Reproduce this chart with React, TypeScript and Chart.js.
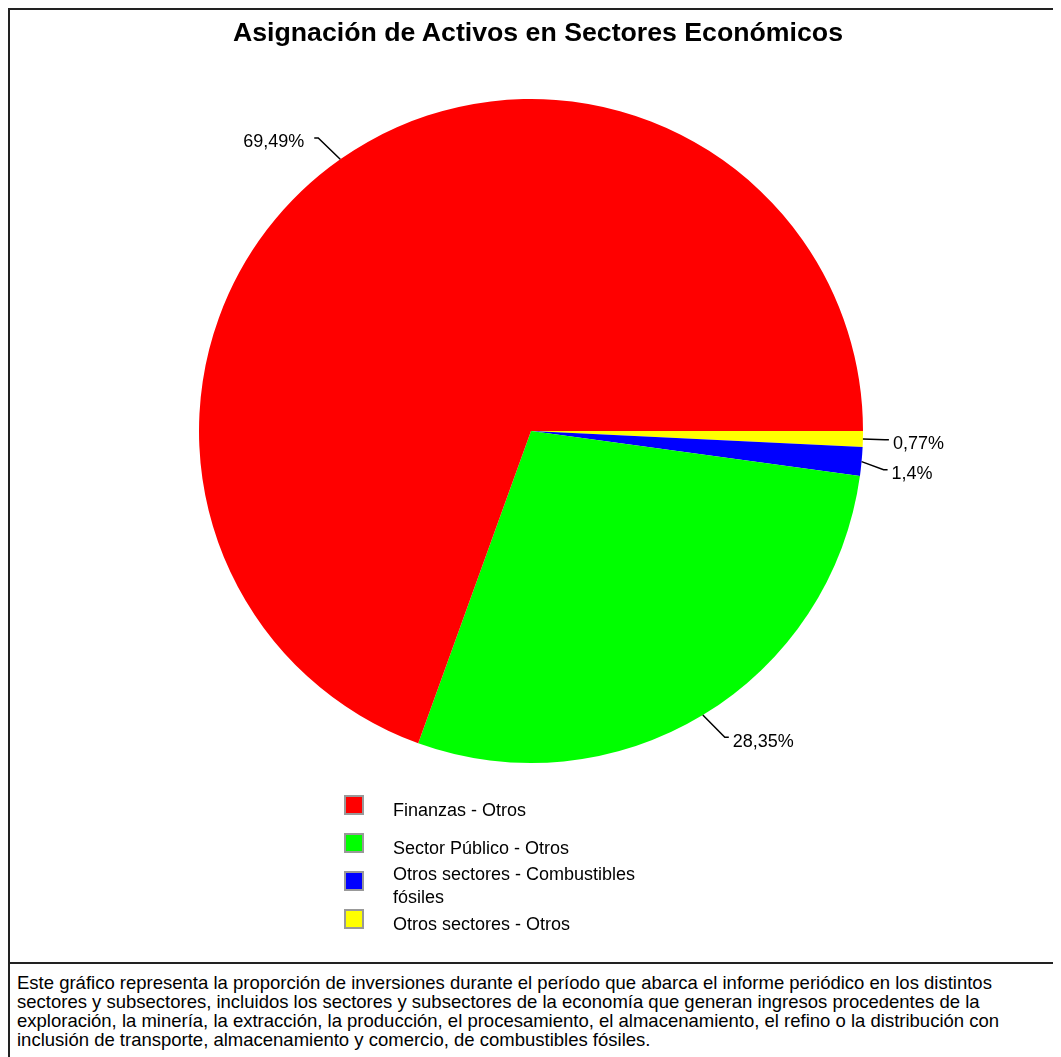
import React, { useEffect, useRef } from "react";
import { Chart, registerables } from "chart.js";

Chart.register(...registerables);

const TITLE = "Asignación de Activos en Sectores Económicos";
const categories = [
  "Finanzas - Otros",
  "Sector Público - Otros",
  "Otros sectores - Combustibles fósiles",
  "Otros sectores - Otros",
];
const values = [69.49, 28.35, 1.4, 0.77];
const valueLabels = ["69,49%", "28,35%", "1,4%", "0,77%"];
const colors = ["#FF0000", "#00FF00", "#0000FF", "#FFFF00"];
const footerLines = [
  "Este gráfico representa la proporción de inversiones durante el período que abarca el informe periódico en los distintos",
  "sectores y subsectores, incluidos los sectores y subsectores de la economía que generan ingresos procedentes de la",
  "exploración, la minería, la extracción, la producción, el procesamiento, el almacenamiento, el refino o la distribución con",
  "inclusión de transporte, almacenamiento y comercio, de combustibles fósiles.",
];

const FONT = "'Liberation Sans', Arial, Helvetica, sans-serif";

const outsideLabels = {
  id: "outsideLabels",
  afterDatasetsDraw(chart: any) {
    const ctx = chart.ctx;
    const meta = chart.getDatasetMeta(0);
    const lbls: string[] = chart.data.datasets[0].valueLabels;
    const items = meta.data.map((arc: any, i: number) => {
      const p = arc.getProps(["x", "y", "startAngle", "endAngle", "outerRadius"], true);
      const mid = (p.startAngle + p.endAngle) / 2;
      const c = Math.cos(mid);
      const s = Math.sin(mid);
      const x0 = p.x + c * p.outerRadius;
      const y0 = p.y + s * p.outerRadius;
      const right = c >= 0;
      const x1 = x0 + (right ? 22 : -22);
      const y1 = y0 + s * 26;
      return { x0, y0, x1, y1, right, text: lbls[i] };
    });
    // simple vertical collision avoidance per side
    [true, false].forEach((side) => {
      const group = items.filter((it: any) => it.right === side).sort((a: any, b: any) => a.y1 - b.y1);
      for (let k = 1; k < group.length; k++) {
        if (group[k].y1 - group[k - 1].y1 < 30) group[k].y1 = group[k - 1].y1 + 30;
      }
    });
    ctx.save();
    ctx.strokeStyle = "#000";
    ctx.lineWidth = 1.5;
    ctx.fillStyle = "#000";
    ctx.font = `18px ${FONT}`;
    ctx.textBaseline = "alphabetic";
    items.forEach((it: any) => {
      const x2 = it.x1 + (it.right ? 4 : -4);
      ctx.beginPath();
      ctx.moveTo(it.x0, it.y0);
      ctx.lineTo(it.x1, it.y1);
      ctx.lineTo(x2, it.y1);
      ctx.stroke();
      ctx.textAlign = it.right ? "left" : "right";
      ctx.fillText(it.text, x2 + (it.right ? 4 : -10), it.y1 + 9.5);
    });
    ctx.restore();
  },
};

function PieChart() {
  const ref = useRef<HTMLCanvasElement>(null);
  useEffect(() => {
    if (!ref.current) return;
    // Chart.js draws clockwise; reference runs counter-clockwise from 3 o'clock,
    // so the dataset order is reversed.
    const rev = (a: any[]) => a.slice().reverse();
    const chart = new Chart(ref.current, {
      type: "pie",
      data: {
        labels: rev(categories),
        datasets: [
          {
            data: rev(values),
            backgroundColor: rev(colors),
            borderWidth: 0,
            hoverOffset: 0,
            valueLabels: rev(valueLabels),
          } as any,
        ],
      },
      options: {
        animation: false,
        responsive: false,
        maintainAspectRatio: false,
        rotation: 90,
        radius: 332,
        layout: { padding: { left: 189, top: 89, right: 203, bottom: 37 } },
        plugins: {
          legend: { display: false },
          tooltip: { enabled: false },
          title: { display: false },
        },
        events: [],
      },
      plugins: [outsideLabels],
    });
    return () => chart.destroy();
  }, []);
  return (
    <canvas
      ref={ref}
      width={1056}
      height={790}
      style={{ position: "absolute", left: 0, top: 0, width: 1056, height: 790 }}
    />
  );
}

export default function App() {
  return (
    <div style={{ width: 1053, height: 1049, overflow: "hidden", fontFamily: FONT }}>
      <div
        style={{
          width: 1060,
          boxSizing: "border-box",
          border: "2px solid #222",
          background: "#fff",
        }}
      >
        <div style={{ position: "relative", height: 952 }}>
          <PieChart />
          <div
            style={{
              position: "absolute",
              left: 0,
              top: 7,
              width: 1056,
              textAlign: "center",
              fontWeight: "bold",
              fontSize: 26.7,
              lineHeight: "30px",
              color: "#000",
            }}
          >
            {TITLE}
          </div>
          <div style={{ position: "absolute", left: 334, top: 776 }}>
            {categories.map((c, i) => (
              <div
                key={c}
                style={{ display: "flex", alignItems: "center", height: 38 }}
              >
                <div
                  style={{
                    width: 20,
                    height: 20,
                    boxSizing: "border-box",
                    border: "2px solid #999",
                    background: colors[i],
                    flex: "none",
                  }}
                />
                <div
                  style={{
                    marginLeft: 29,
                    width: 260,
                    fontSize: 18,
                    lineHeight: "23px",
                    position: "relative",
                    top: 5,
                    color: "#000",
                  }}
                >
                  {c}
                </div>
              </div>
            ))}
          </div>
        </div>
        <div
          style={{
            borderTop: "2px solid #222",
            padding: "9px 7px 20px 7px",
            fontSize: 18.5,
            lineHeight: "19px",
            color: "#000",
            whiteSpace: "nowrap",
          }}
        >
          {footerLines.map((l, i) => (
            <div key={i}>{l}</div>
          ))}
        </div>
      </div>
    </div>
  );
}
